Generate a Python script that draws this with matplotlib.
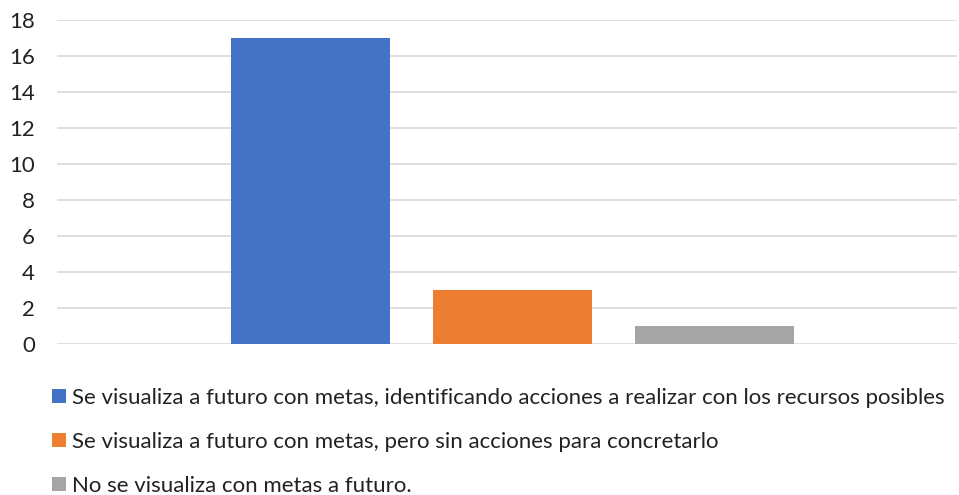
import matplotlib.pyplot as plt
import numpy as np
from matplotlib.patches import Patch

# data
labels = [
    "Se visualiza a futuro con metas, identificando acciones a realizar con los recursos posibles",
    "Se visualiza a futuro con metas, pero sin acciones para concretarlo",
    "No se visualiza con metas a futuro.",
]
values = [17, 3, 1]
colors = ["#4472C4", "#ED7D31", "#A5A5A5"]
yticks = [0, 2, 4, 6, 8, 10, 12, 14, 16, 18]

plt.rcParams['font.family'] = ['Lato', 'DejaVu Sans']
text_color = '#222222'
fs = 16

fig = plt.figure(figsize=(9.59, 4.95), dpi=100)
W, H = 959, 495
ax = fig.add_axes([57 / W, 1 - 344 / H, 900 / W, 324 / H])

x = np.arange(len(values))
ax.bar(x, values, width=0.787, color=colors, zorder=3)

ax.set_xlim(-1.255, 3.2)
ax.set_ylim(0, 18)
ax.set_yticks(yticks)
ax.set_xticks([])
ax.yaxis.grid(True, color='#D9D9D9', linewidth=1.2, zorder=0)
ax.tick_params(axis='y', length=0, pad=16, labelsize=fs, labelcolor=text_color)
for s in ax.spines.values():
    s.set_visible(False)

handles = [Patch(facecolor=c, edgecolor='none') for c in colors]
fig.legend(handles, labels, loc='upper left', bbox_to_anchor=(52 / W, 1 - 388 / H),
           frameon=False, fontsize=fs, labelcolor=text_color,
           handlelength=0.62, handleheight=0.62, handletextpad=0.3,
           labelspacing=1.08, borderaxespad=0, borderpad=0)

plt.savefig('out.png', dpi=100)
